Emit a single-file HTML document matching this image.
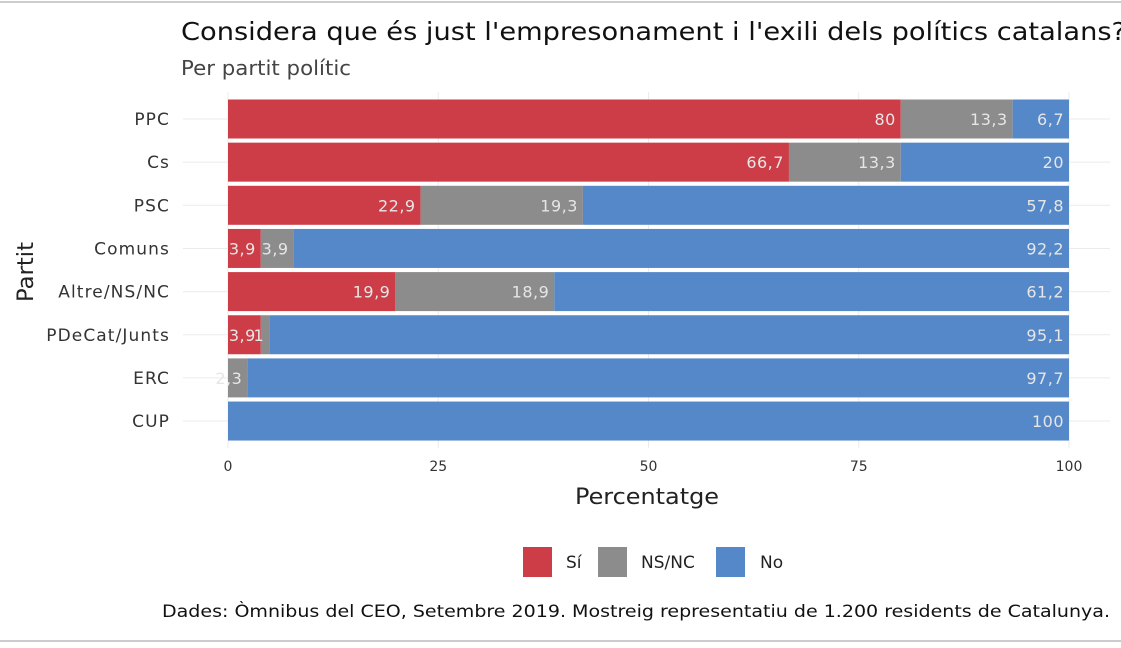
<!DOCTYPE html>
<html><head><meta charset="utf-8"><style>
html,body{margin:0;padding:0;background:#fff;}
body{width:1121px;height:644px;overflow:hidden;font-family:"DejaVu Sans","Liberation Sans",sans-serif;}
</style></head><body>
<svg width="1121" height="644" xmlns="http://www.w3.org/2000/svg">
<line x1="0" y1="2" x2="1121" y2="2" stroke="#ccc" stroke-width="2"/>
<line x1="0" y1="641" x2="1121" y2="641" stroke="#ccc" stroke-width="2"/>
<text x="181" y="40" font-size="25" fill="#111" textLength="945" lengthAdjust="spacingAndGlyphs">Considera que és just l'empresonament i l'exili dels polítics catalans?</text>
<text x="181" y="75" font-size="20" fill="#444" textLength="170" lengthAdjust="spacingAndGlyphs">Per partit polític</text>
<g id="grid"></g>
<g id="bars"></g>
<g id="ylabels"></g>
<g id="xticks"></g>
<text x="647" y="504" font-size="22" fill="#222" text-anchor="middle" textLength="144" lengthAdjust="spacingAndGlyphs">Percentatge</text>
<text transform="translate(33,272) rotate(-90)" font-size="22" fill="#222" text-anchor="middle" textLength="60" lengthAdjust="spacingAndGlyphs">Partit</text>
<g>
<rect x="523" y="547" width="29" height="30" fill="#cc3d47"/>
<text x="566" y="568" font-size="17" fill="#222">Sí</text>
<rect x="598" y="547" width="29" height="30" fill="#8c8c8c"/>
<text x="641" y="568" font-size="17" fill="#222">NS/NC</text>
<rect x="716" y="547" width="29" height="30" fill="#5588c8"/>
<text x="760" y="568" font-size="17" fill="#222">No</text>
</g>
<text x="162" y="617" font-size="17" fill="#111" textLength="948" lengthAdjust="spacingAndGlyphs">Dades: Òmnibus del CEO, Setembre 2019. Mostreig representatiu de 1.200 residents de Catalunya.</text>
</svg>
<script>
const categories = ["PPC","Cs","PSC","Comuns","Altre/NS/NC","PDeCat/Junts","ERC","CUP"];
const siValues = [80,66.7,22.9,3.9,19.9,3.9,0,0];
const nsValues = [13.3,13.3,19.3,3.9,18.9,1.0,2.3,0];
const noValues = [6.7,20,57.8,92.2,61.2,95.1,97.7,100];
const xTicks = [0,25,50,75,100];
const NS="http://www.w3.org/2000/svg";
const x = v => 228 + v*(1069-228)/100;
const y = i => 119 + i*43.15;
const bh = 39;
const colors = ["#cc3d47","#8c8c8c","#5588c8"];
function mk(tag, attrs, parent){const e=document.createElementNS(NS,tag);for(const k in attrs)e.setAttribute(k,attrs[k]);document.getElementById(parent).appendChild(e);return e;}
categories.forEach((c,i)=>{
  const g=mk("line",{x1:183,x2:1110,y1:y(i),y2:y(i),stroke:"#ebebeb","stroke-width":1},"grid");
  
  
  const t=mk("text",{x:170,y:y(i)+6,"font-size":17,"letter-spacing":"1.1",fill:"#333","text-anchor":"end"},"ylabels");
  t.textContent=c;
  
  
});
xTicks.forEach(v=>{
  const g=mk("line",{x1:x(v),x2:x(v),y1:92,y2:448,stroke:"#ebebeb","stroke-width":1},"grid");
  
  
  const t=mk("text",{x:x(v),y:471,"font-size":14,fill:"#333","text-anchor":"middle"},"xticks");
  t.textContent=v;
  
  
});
const series=[siValues,nsValues,noValues];
const names=["si","nsnc","no"];
categories.forEach((c,i)=>{
  let acc=0;
  series.forEach((s,k)=>{
    const v=s[i];
    if(v<=0)return;
    const r=mk("rect",{x:x(acc),y:y(i)-bh/2,width:x(acc+v)-x(acc),height:bh,fill:colors[k]},"bars");
    
    
    acc+=v;
    const t=mk("text",{x:x(acc)-5,y:y(i)+6,"font-size":16,"letter-spacing":"0.5",fill:"#e6e6e6","text-anchor":"end"},"bars");
    t.textContent=String(v).replace('.',',');
    
    
  });
});
</script>
</body></html>
